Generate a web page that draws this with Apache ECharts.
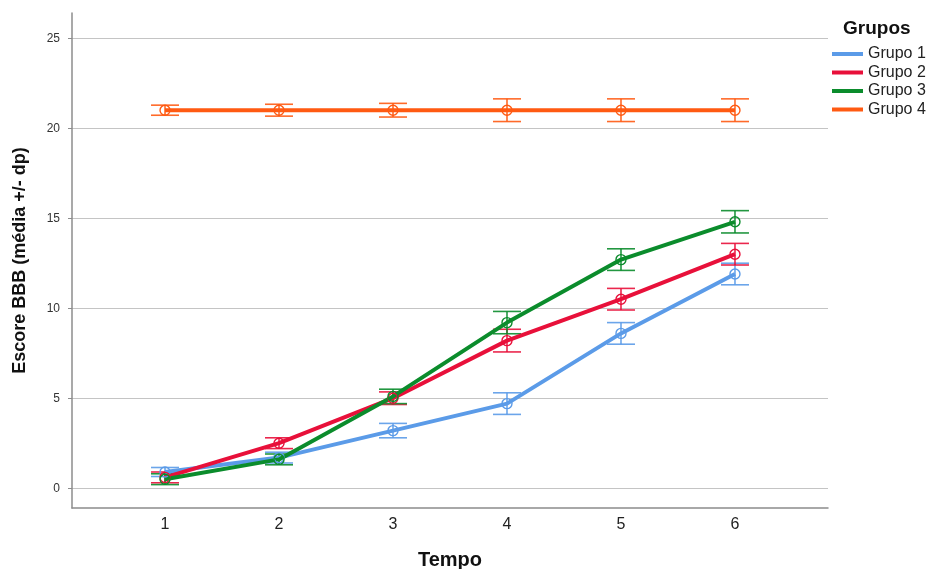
<!DOCTYPE html>
<html>
<head>
<meta charset="utf-8">
<script src="https://cdn.jsdelivr.net/npm/echarts@6/dist/echarts.min.js"></script>
<style>
  html, body { margin: 0; padding: 0; background: #fff; }
  #chart { width: 931px; height: 569px; }
</style>
</head>
<body>
<div id="chart"></div>
<script>
// tempo (x) and group means / sd
const tempos = [1, 2, 3, 4, 5, 6]
const yTicks = [0, 5, 10, 15, 20, 25]
const grupos = ['Grupo 1', 'Grupo 2', 'Grupo 3', 'Grupo 4']
const cores = ['#5b9be8', '#e8103a', '#0b8c2c', '#ff5a12']

const media1 = [0.9, 1.7, 3.2, 4.7, 8.6, 11.9]
const media2 = [0.6, 2.5, 5.0, 8.2, 10.5, 13.0]
const media3 = [0.5, 1.6, 5.1, 9.2, 12.7, 14.8]
const media4 = [21.0, 21.0, 21.0, 21.0, 21.0, 21.0]

const dp1 = [0.25, 0.3, 0.4, 0.6, 0.6, 0.6]
const dp2 = [0.3, 0.3, 0.35, 0.63, 0.6, 0.6]
const dp3 = [0.3, 0.3, 0.4, 0.62, 0.6, 0.62]
const dp4 = [0.28, 0.33, 0.38, 0.63, 0.63, 0.63]

const medias = [media1, media2, media3, media4]
const dps = [dp1, dp2, dp3, dp4]

const chart = echarts.init(document.getElementById('chart'))

function errorBar(params, api) {
  const x = api.value(0)
  const lo = api.coord([x, api.value(1)])
  const hi = api.coord([x, api.value(2)])
  const half = 14
  const style = { stroke: api.visual('color'), lineWidth: 1.6, opacity: 0.9 }
  return {
    type: 'group',
    children: [
      { type: 'line', shape: { x1: lo[0], y1: lo[1], x2: hi[0], y2: hi[1] }, style },
      { type: 'line', shape: { x1: lo[0] - half, y1: lo[1], x2: lo[0] + half, y2: lo[1] }, style },
      { type: 'line', shape: { x1: hi[0] - half, y1: hi[1], x2: hi[0] + half, y2: hi[1] }, style }
    ]
  }
}

const series = []
grupos.forEach((g, i) => {
  series.push({
    name: g + ' dp',
    type: 'custom',
    renderItem: errorBar,
    itemStyle: { color: cores[i] },
    data: tempos.map((t, k) => [t, medias[i][k] - dps[i][k], medias[i][k] + dps[i][k]]),
    z: 2,
    silent: true
  })
})
grupos.forEach((g, i) => {
  series.push({
    name: g,
    type: 'line',
    data: tempos.map((t, k) => [t, medias[i][k]]),
    symbol: 'circle',
    symbolSize: 10,
    lineStyle: { width: 4, color: cores[i] },
    itemStyle: { color: 'rgba(0,0,0,0)', borderColor: cores[i], borderWidth: 1.4 },
    z: 3
  })
})

chart.setOption({
  animation: false,
  textStyle: { fontFamily: 'Liberation Sans, Arial, sans-serif' },
  title: {
    text: 'Grupos',
    left: 843,
    top: 19,
    padding: 0,
    textStyle: { fontSize: 19, fontWeight: 'bold', color: '#111' }
  },
  legend: {
    data: grupos.map((g, i) => ({ name: g, itemStyle: { color: cores[i], borderWidth: 0 } })),
    orient: 'vertical',
    left: 832,
    top: 46,
    padding: 0,
    icon: 'rect',
    itemWidth: 31,
    itemHeight: 4,
    itemGap: 2.5,
    textStyle: { fontSize: 16, color: '#222' }
  },
  grid: { left: 72, right: 103, top: 13, bottom: 61, containLabel: false, outerBoundsMode: 'none' },
  xAxis: {
    type: 'value',
    min: 0.184,
    max: 6.816,
    name: 'Tempo',
    nameLocation: 'middle',
    nameGap: 42,
    nameTextStyle: { fontSize: 20, fontWeight: 'bold', color: '#111' },
    axisLine: { show: true, onZero: false, lineStyle: { color: '#8c8c8c', width: 1.5 } },
    axisTick: { show: false },
    splitLine: { show: false },
    axisLabel: { customValues: tempos, fontSize: 16, color: '#222', margin: 9 }
  },
  yAxis: {
    type: 'value',
    min: -1.1,
    max: 26.4,
    name: 'Escore BBB (média +/- dp)',
    nameLocation: 'middle',
    nameGap: 43,
    nameTextStyle: { fontSize: 18, fontWeight: 'bold', color: '#111' },
    axisLine: { show: true, onZero: false, lineStyle: { color: '#8c8c8c', width: 1.5 } },
    axisTick: { show: true, customValues: yTicks, length: 4, lineStyle: { color: '#8c8c8c' } },
    splitLine: { show: true, lineStyle: { color: '#c4c4c4', width: 1.2 } },
    axisLabel: { customValues: yTicks, fontSize: 12, color: '#333', margin: 12 }
  },
  series: series
})
</script>
</body>
</html>
